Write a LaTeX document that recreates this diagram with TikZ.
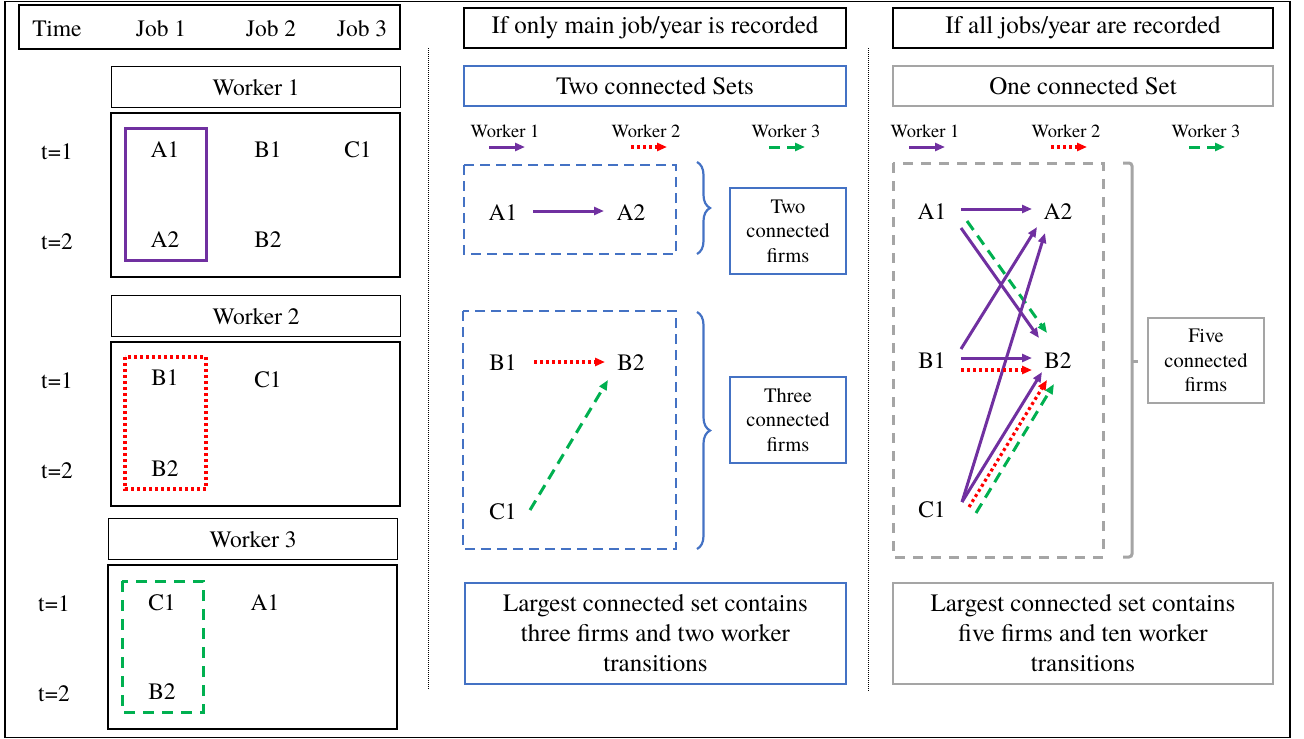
\documentclass[tikz,border=0pt]{standalone}
\usepackage{fontspec}
\setmainfont{texgyretermes}[Extension=.otf, UprightFont=*-regular]
\usetikzlibrary{positioning, arrows.meta, calc, decorations.pathreplacing}

\definecolor{jobPurple}{HTML}{7030A0}
\definecolor{jobRed}{HTML}{FF0000}
\definecolor{jobGreen}{HTML}{00B050}
\definecolor{setBlue}{HTML}{4472C4}
\definecolor{setGray}{HTML}{A5A5A5}

\begin{document}
\begin{tikzpicture}[
    x=1pt, y=-1pt,
    font=\fontsize{23.5}{28}\selectfont,
    box/.style={draw, line width=1.3pt, inner sep=0pt, align=center},
    blue_box/.style={draw=setBlue, line width=2pt, inner sep=0pt, align=center},
    gray_box/.style={draw=setGray, line width=2pt, inner sep=0pt, align=center},
    big_text/.style={font=\fontsize{25}{30}\selectfont},
    small_text/.style={font=\fontsize{20.5}{24.5}\selectfont},
    legend_text/.style={font=\fontsize{18.5}{22}\selectfont},
    move1/.style={-{Triangle[length=10pt, width=8pt]}, jobPurple, line width=3pt},
    move2/.style={-{Triangle[length=10pt, width=8pt]}, jobRed, line width=3.2pt, dash pattern=on 3pt off 3pt},
    move3/.style={-{Triangle[length=10pt, width=8pt]}, jobGreen, line width=3pt, dash pattern=on 11pt off 7pt},
    set_brace/.style={decorate, decoration={brace, amplitude=13pt}, line width=2.2pt},
    split/.style={line width=0.7pt, dash pattern=on 1pt off 1pt}
]
\useasboundingbox (0,0) rectangle (1304,739);

% Macros for repeated elements
\newcommand{\drawWorker}[4]{
    % Title box, job box and time labels
    \node[box, minimum width=289, minimum height=41, anchor=north west] (#3Title) at (#1, #2) {#4};
    \draw[line width=1.3pt] (#1, #2+47) rectangle (#1+289, #2+211);
    \node (#3T1) at (#1-54, #2+86) {t=1};
    \node (#3T2) at (#1-54, #2+176) {t=2};
}
\newcommand{\drawLegend}[2]{
    \node[legend_text] (#2Leg1) at (#1, 131) {Worker 1};
    \node[legend_text] (#2Leg2) at (#1+141, 131) {Worker 2};
    \node[legend_text] (#2Leg3) at (#1+281, 131) {Worker 3};
    \draw[move1] ($(#2Leg1)+(-16,16)$) -- ($(#2Leg1)+(20,16)$);
    \draw[move2] ($(#2Leg2)+(-15,16)$) -- ($(#2Leg2)+(21,16)$);
    \draw[move3] ($(#2Leg3)+(-17,16)$) -- ($(#2Leg3)+(19,16)$);
}

% Outer frame
\draw[line width=1.5pt] (5,1.5) rectangle (1290,737.5);

% ==========================================
% Left panel: job history of each worker
\draw[line width=1.3pt] (19,5) rectangle (400,49);
\node (hdrTime) at (57,29) {Time};
\node (hdrJob1) at (161,29) {Job 1};
\node (hdrJob2) at (271,29) {Job 2};
\node (hdrJob3) at (362,29) {Job 3};

\drawWorker{111}{66}{wa}{Worker 1}
\node (waA1) at (165,150) {A1};
\node (waB1) at (268,150) {B1};
\node (waC1) at (358,150) {C1};
\node (waA2) at (165,240) {A2};
\node (waB2) at (268,240) {B2};
\draw[jobPurple, line width=3pt] (125,128) rectangle (206,260);

\drawWorker{111}{295}{wb}{Worker 2}
\node (wbB1) at (165,378) {B1};
\node (wbC1) at (268,380) {C1};
\node (wbB2) at (165,469) {B2};
\draw[jobRed, line width=3.2pt, dash pattern=on 3pt off 3pt] (125,357) rectangle (206,489);

\drawWorker{108}{518}{wc}{Worker 3}
\node (wcC1) at (162,603) {C1};
\node (wcA1) at (265,603) {A1};
\node (wcB2) at (162,692) {B2};
\draw[jobGreen, line width=3pt, dash pattern=on 11pt off 8pt] (122,581) rectangle (203,712);

\draw[split] (428,48) -- (428,690);
\draw[split] (868,48) -- (868,692);

% ==========================================
% Middle panel: only main job/year
\node[box, big_text, minimum width=382, minimum height=40] (midHead) at (655,28) {If only main job/year is recorded};
\node[blue_box, big_text, minimum width=382, minimum height=40] (midSets) at (655,86) {Two connected Sets};
\drawLegend{505}{mid}

\draw[setBlue, line width=2.8pt, dash pattern=on 10pt off 6pt] (464,165) rectangle (676,254);
\node (mA1) at (503,213) {A1};
\node (mA2) at (631,213) {A2};
\draw[move1] ($(mA1)+(30,-2)$) -- ($(mA2)+(-27,-2)$);
\draw[set_brace, setBlue] (697,162) -- (697,254);
\node[blue_box, small_text, minimum width=116, minimum height=86] (midTwo) at (788,231) {Two\\connected\\firms};

\draw[setBlue, line width=2.8pt, dash pattern=on 10pt off 6pt] (463,311) rectangle (676,549);
\node (mB1) at (503,363) {B1};
\node (mB2) at (631,363) {B2};
\node (mC1) at (503,512) {C1};
\draw[move2] ($(mB1)+(31,-1)$) -- ($(mB2)+(-26,-1)$);
\draw[move3] ($(mC1)+(27,-2)$) -- ($(mB2)+(-23,17)$);
\draw[set_brace, setBlue] (697,312) -- (697,549);
\node[blue_box, small_text, minimum width=116, minimum height=86] (midThree) at (788,420) {Three\\connected\\firms};

\node[blue_box, big_text, minimum width=381, minimum height=101] (midSum) at (655.5,633) {Largest connected set contains\\three firms and two worker\\transitions};

% ==========================================
% Right panel: all jobs/year
\node[box, big_text, minimum width=380, minimum height=40] (rgtHead) at (1083,28) {If all jobs/year are recorded};
\node[gray_box, big_text, minimum width=380, minimum height=40] (rgtSets) at (1083,86) {One connected Set};
\drawLegend{925}{rgt}

\draw[setGray, line width=3pt, dash pattern=on 10pt off 8pt] (893,163) rectangle (1103,557);
\node (rA1) at (932,212) {A1};
\node (rA2) at (1058,212) {A2};
\node (rB1) at (932,361) {B1};
\node (rB2) at (1058,361) {B2};
\node (rC1) at (932,510) {C1};
\draw[move1] ($(rA1)+(29,-3)$) -- ($(rA2)+(-26,-3)$);
\draw[move1] ($(rA1)+(29,16)$) -- ($(rB2)+(-19,-23)$);
\draw[move3] ($(rA1)+(35,9)$) -- ($(rB2)+(-11,-28)$);
\draw[move1] ($(rB1)+(29,-12)$) -- ($(rA2)+(-21,15)$);
\draw[move1] ($(rC1)+(30,-8)$) -- ($(rA2)+(-13,21)$);
\draw[move1] ($(rB1)+(29,-3)$) -- ($(rB2)+(-26,-3)$);
\draw[move2] ($(rB1)+(29,9)$) -- ($(rB2)+(-26,9)$);
\draw[move1] ($(rC1)+(30,-8)$) -- ($(rB2)+(-16,11)$);
\draw[move2] ($(rC1)+(37,-3)$) -- ($(rB2)+(-11,19)$);
\draw[move3] ($(rC1)+(44,3)$) -- ($(rB2)+(-4,23)$);
% Bracket of the single connected set
\draw[setGray, line width=3pt, rounded corners=3pt] (1123,163) -- (1132,163) -- (1132,557) -- (1123,557);
\draw[setGray, line width=3pt] (1132,361) -- (1138,361);
\node[gray_box, small_text, minimum width=116, minimum height=85] (rgtFive) at (1206,360.5) {Five\\connected\\firms};

\node[gray_box, big_text, minimum width=380, minimum height=101] (rgtSum) at (1083,633) {Largest connected set contains\\five firms and ten worker\\transitions};

\end{tikzpicture}
\end{document}
